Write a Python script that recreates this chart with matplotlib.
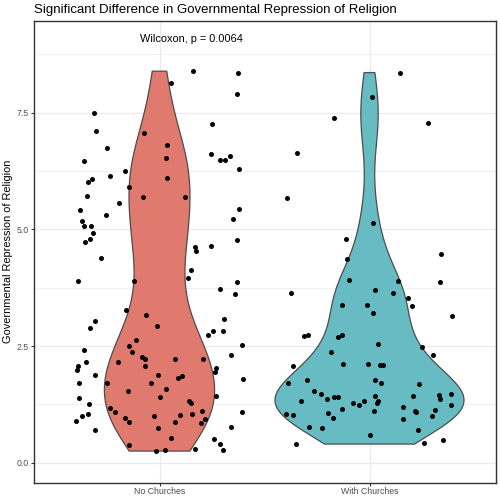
import numpy as np
import matplotlib
matplotlib.use("Agg")
import matplotlib.pyplot as plt

# ---------------- data ----------------
categories = ["No Churches", "With Churches"]

no_church_values = [
    8.39, 8.35, 8.14, 7.91, 7.49, 7.25, 7.11, 7.07, 6.74, 6.80, 6.54, 6.61, 6.49, 6.49, 6.58,
    6.46, 6.25, 6.30, 6.09, 6.01, 6.14, 6.11, 5.90, 5.71, 5.69, 5.69, 5.57, 5.41, 5.44, 5.31,
    5.23, 5.18, 5.07, 5.08, 4.92, 4.80, 4.72, 4.77, 4.62, 4.54, 4.65, 4.39, 3.89, 3.90, 4.12,
    3.95, 3.87, 3.72, 3.61, 3.28, 3.17, 3.04, 2.89, 2.93, 3.07, 2.82, 2.74, 2.82, 2.62, 2.51,
    2.38, 2.41, 2.52, 2.31, 2.26, 2.22, 2.16, 2.22, 2.22, 2.16, 2.08, 2.07, 1.98, 2.03, 1.94,
    1.88, 1.87, 1.81, 1.86, 1.79, 1.71, 1.70, 1.71, 1.57, 1.54, 1.44, 1.40, 1.39, 1.26, 1.33,
    1.27, 1.18, 1.09, 1.11, 1.09, 1.01, 1.04, 0.89, 0.96, 0.88, 1.01, 1.02, 1.04, 0.94, 0.85,
    0.88, 0.74, 0.76, 0.70, 0.54, 0.51, 0.40, 0.27, 0.39, 0.25, 0.27, 0.29,
]
no_church_jitter = [
    0.160, 0.375, 0.056, 0.367, -0.311, 0.249, -0.300, -0.075, -0.249, 0.038, 0.030, 0.246, 0.286, 0.313, 0.337,
    -0.360, -0.163, 0.380, -0.322, -0.341, -0.235, 0.035, -0.144, -0.346, -0.078, 0.120, -0.195, -0.378, 0.380, -0.254,
    0.351, -0.370, -0.360, -0.325, -0.316, -0.332, -0.357, 0.371, 0.167, 0.173, 0.243, -0.280, -0.389, -0.120, 0.148,
    0.138, 0.370, 0.289, 0.360, -0.160, -0.065, -0.305, -0.332, -0.011, 0.306, 0.257, 0.232, 0.301, -0.113, -0.143,
    -0.132, -0.360, 0.392, 0.341, -0.082, -0.071, -0.200, 0.076, 0.208, -0.348, -0.067, -0.389, -0.394, 0.270, 0.262,
    -0.308, -0.005, 0.090, 0.105, 0.399, -0.384, -0.252, -0.040, 0.033, -0.151, 0.270, 0.003, -0.381, -0.335, 0.141,
    0.149, -0.237, -0.210, 0.201, 0.392, -0.371, -0.341, -0.400, -0.162, -0.143, -0.025, 0.099, 0.156, 0.219, 0.197,
    0.073, -0.005, 0.340, -0.308, 0.056, 0.259, 0.286, 0.301, -0.143, -0.018, 0.024, 0.171,
]

with_church_values = [
    8.36, 7.84, 7.39, 7.29, 6.64, 5.67, 5.13, 4.79, 4.48, 4.36, 3.91, 3.87, 3.89, 3.64, 3.71,
    3.63, 3.52, 3.36, 3.37, 3.39, 3.21, 3.14, 2.71, 2.73, 2.69, 2.74, 2.54, 2.47, 2.31, 2.38,
    2.07, 2.11, 2.11, 2.09, 2.10, 1.71, 1.77, 1.77, 1.71, 1.69, 1.53, 1.47, 1.37, 1.41, 1.41,
    1.33, 1.43, 1.44, 1.45, 1.37, 1.47, 1.29, 1.23, 1.32, 1.28, 1.32, 1.15, 1.11, 1.19, 1.11,
    1.09, 1.14, 1.23, 1.05, 1.02, 1.06, 0.96, 1.01, 0.93, 0.77, 0.74, 0.71, 0.59, 0.40, 0.42,
    0.49,
]
with_church_jitter = [
    0.146, 0.013, -0.170, 0.278, -0.344, -0.394, 0.016, -0.113, 0.340, -0.105, -0.097, 0.338, 0.137, -0.376, 0.024,
    0.111, 0.184, 0.203, -0.132, -0.013, 0.019, 0.392, -0.311, -0.294, -0.148, -0.133, 0.041, 0.248, 0.301, -0.184,
    -0.365, -0.127, -0.006, 0.051, 0.062, -0.387, -0.297, 0.025, 0.056, 0.237, -0.265, -0.232, -0.203, -0.171, -0.149,
    -0.325, 0.025, 0.208, 0.333, 0.337, 0.389, -0.078, -0.051, -0.024, 0.035, 0.041, -0.130, 0.020, 0.159, 0.216,
    0.222, 0.314, 0.389, -0.400, -0.365, -0.199, -0.176, 0.299, 0.159, -0.286, -0.225, 0.232, 0.001, -0.352, 0.260,
    0.349,
]

y_ticks = [0.0, 2.5, 5.0, 7.5]
y_tick_labels = ["0.0", "2.5", "5.0", "7.5"]
y_minor = [1.25, 3.75, 6.25, 8.75]
title_text = "Significant Difference in Governmental Repression of Religion"
y_label_text = "Governmental Repression of Religion"
annotation_text = "Wilcoxon, p = 0.0064"
fill_colors = ["#E07A6F", "#66BCC2"]

# ---------------- helpers ----------------
def nrd0(x):
    x = np.asarray(x, float)
    sd = np.std(x, ddof=1)
    q75, q25 = np.percentile(x, [75, 25])
    lo = min(sd, (q75 - q25) / 1.34)
    return 0.9 * lo * len(x) ** (-0.2)

def kde(x, grid):
    x = np.asarray(x, float)
    bw = nrd0(x)
    z = (grid[:, None] - x[None, :]) / bw
    return np.exp(-0.5 * z ** 2).sum(axis=1) / (len(x) * bw * np.sqrt(2 * np.pi))

plt.rcParams["font.family"] = ["Liberation Sans", "DejaVu Sans"]

W, H = 500, 497
fig = plt.figure(figsize=(W / 100, H / 100), dpi=100)
left, right, top, bottom = 33.5, 495.5, 21, 482.5
ax = fig.add_axes([left / W, 1 - bottom / H, (right - left) / W, (bottom - top) / H])

ax.set_xlim(0.4, 2.6)
ax.set_ylim(-0.424, 9.465)

# grid
for yv in y_minor:
    ax.axhline(yv, color="#EBEBEB", lw=0.5, zorder=0)
for yv in y_ticks:
    ax.axhline(yv, color="#EBEBEB", lw=1.0, zorder=0)
for xv in [1, 2]:
    ax.axvline(xv, color="#EBEBEB", lw=1.0, zorder=0)

# violins (ggplot-style, scale = "area", width 0.9)
groups = [no_church_values, with_church_values]
grids, dens = [], []
for vals in groups:
    g = np.linspace(min(vals), max(vals), 512)
    grids.append(g)
    dens.append(kde(vals, g))
dmax = max(d.max() for d in dens)
for i, (g, d) in enumerate(zip(grids, dens)):
    pos = i + 1
    hw = d / dmax * 0.45
    xs = np.concatenate([pos - hw, (pos + hw)[::-1]])
    ys = np.concatenate([g, g[::-1]])
    ax.fill(xs, ys, facecolor=fill_colors[i], edgecolor="#4d4d4d", lw=0.9, zorder=2)

# jittered points
ax.scatter(1 + np.array(no_church_jitter), no_church_values, s=13, color="black", zorder=3, linewidths=0)
ax.scatter(2 + np.array(with_church_jitter), with_church_values, s=13, color="black", zorder=3, linewidths=0)

# annotation
ax.text(1.15, 9.08, annotation_text, ha="center", va="center", fontsize=7.9, color="black")

# axes styling
ax.set_xticks([1, 2])
ax.set_xticklabels(categories)
ax.set_yticks(y_ticks)
ax.set_yticklabels(y_tick_labels)
ax.tick_params(axis="both", length=2.0, width=0.8, color="#333333", labelsize=6.3,
               labelcolor="#4D4D4D", pad=1.5)
for sp in ax.spines.values():
    sp.set_color("#333333")
    sp.set_linewidth(1.0)

fig.text(left / W, 1 - 9.5 / H, title_text, ha="left", va="center", fontsize=9.5, color="black")
fig.text(8 / W, 1 - ((top + bottom) / 2) / H, y_label_text, ha="center", va="center",
         rotation=90, fontsize=7.9, color="black")

fig.savefig("out.png", dpi=100)
